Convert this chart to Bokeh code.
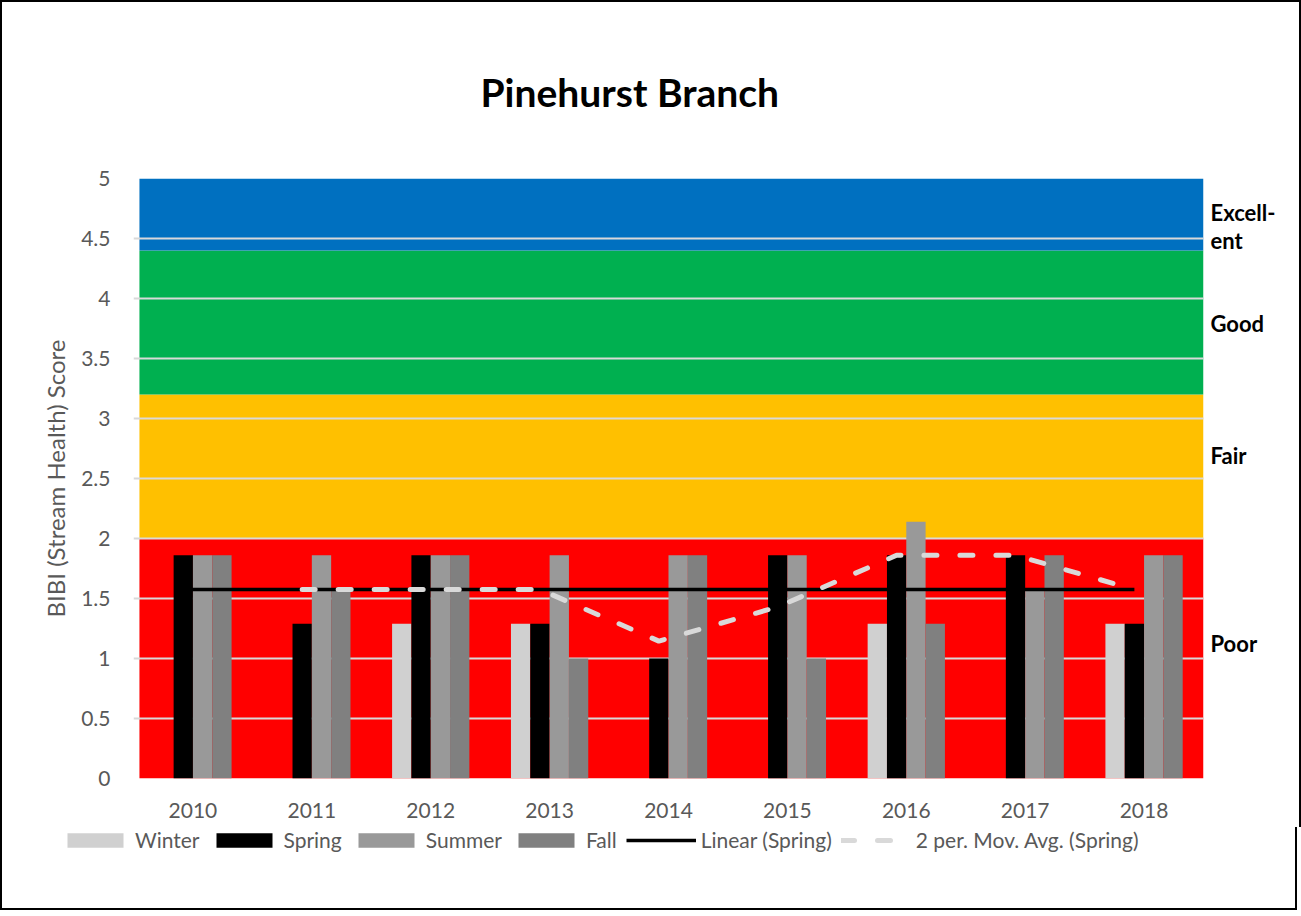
import numpy as np
from bokeh.plotting import figure
from bokeh.models import (Range1d, FixedTicker, NumeralTickFormatter, LinearAxis,
                          Legend, LegendItem)
from bokeh.embed import file_html
from bokeh.resources import INLINE

nan = float("nan")

# ---------------- data ----------------
years = ["2010", "2011", "2012", "2013", "2014", "2015", "2016", "2017", "2018"]
winter = [nan, nan, 1.29, 1.29, nan, nan, 1.29, nan, 1.29]
spring = [1.86, 1.29, 1.86, 1.29, 1.00, 1.86, 1.86, 1.86, 1.29]
summer = [1.86, 1.86, 1.86, 1.86, 1.86, 1.86, 2.14, 1.57, 1.86]
fall = [1.86, 1.57, 1.86, 1.00, 1.86, 1.00, 1.29, 1.86, 1.86]
series_names = ["Winter", "Spring", "Summer", "Fall"]

band_bottom = [0.0, 2.0, 3.2, 4.4]
band_top = [2.0, 3.2, 4.4, 5.0]
band_names = ["Poor", "Fair", "Good", "Excell-\nent"]

y_ticks = [0, 0.5, 1, 1.5, 2, 2.5, 3, 3.5, 4, 4.5, 5]

title_text = "Pinehurst Branch"
y_label = "BIBI (Stream Health) Score"
trend_label = "Linear (Spring)"
ma_label = "2 per. Mov. Avg. (Spring)"

# ---------------- styles / layout ----------------
band_colors = ["#FF0000", "#FFC000", "#00B050", "#0070C0"]
bar_colors = ["#D0D0D0", "#000000", "#999999", "#808080"]
trend_color = "#000000"
ma_color = "#D9D9D9"
band_label_y = [1.125, 2.69, 3.79, 4.6]
FONT = "Lato"
GRAY = "#595959"

xs = np.arange(len(years))
w = 0.1625
offsets = [-1.5 * w, -0.5 * w, 0.5 * w, 1.5 * w]
spring_arr = np.array(spring)
sx = xs + offsets[1]
coef = np.polyfit(xs, spring_arr, 1)
trend = np.polyval(coef, xs)                      # linear trend of spring
ma = (spring_arr[1:] + spring_arr[:-1]) / 2.0     # 2-period moving average


def add_series(fig):
    """Draw bars, trend and moving average on a figure; return the renderers."""
    rs = []
    for vals, off, col in zip([winter, spring, summer, fall], offsets, bar_colors):
        rs.append(fig.vbar(x=xs + off, width=w, top=vals, bottom=0,
                           fill_color=col, line_color=None))
    rs.append(fig.line(x=sx, y=trend, line_color=trend_color, line_width=3.5))
    rs.append(fig.line(x=sx[1:], y=ma, line_color=ma_color, line_width=5,
                       line_dash="13 23", line_cap="round"))
    return rs


# ---------------- main chart ----------------
p = figure(frame_width=1070, frame_height=600,
           output_backend="svg", toolbar_location=None,
           x_range=Range1d(-0.5, 8.5), y_range=Range1d(0, 5),
           min_border_left=131, min_border_right=96,
           min_border_top=176, min_border_bottom=49,
           background_fill_color="white", border_fill_color="white",
           outline_line_color=None,
           styles={"border": "2px solid #000000", "border-bottom": "0px"})

p.title.text = title_text
p.title.align = "left"
p.title.offset = 347
p.title.standoff = 128
p.title.text_font = FONT
p.title.text_font_style = "bold"
p.title.text_font_size = "39px"
p.title.text_color = "black"

# rating bands (below grid)
p.quad(left=-0.45, right=8.5, bottom=band_bottom, top=band_top,
       fill_color=band_colors, line_color=None, level="image")

add_series(p)

p.ygrid.ticker = FixedTicker(ticks=y_ticks)
p.ygrid.grid_line_color = "#D9D9D9"
p.ygrid.grid_line_width = 2
p.xgrid.grid_line_color = None

p.xaxis.ticker = FixedTicker(ticks=list(range(len(years))))
p.xaxis.major_label_overrides = {i: y for i, y in enumerate(years)}
p.yaxis.ticker = FixedTicker(ticks=y_ticks)
p.yaxis.formatter = NumeralTickFormatter(format="0.[0]")

raxis = LinearAxis(ticker=FixedTicker(ticks=band_label_y),
                   major_label_overrides={yy: n for yy, n in zip(band_label_y, band_names)})
p.add_layout(raxis, "right")

for ax in (p.xaxis[0], p.yaxis[0], raxis):
    ax.axis_line_color = None
    ax.major_tick_line_color = None
    ax.minor_tick_line_color = None
    ax.major_tick_out = 0
    ax.major_tick_in = 0
    ax.minor_tick_out = 0
    ax.minor_tick_in = 0
    ax.major_label_text_font = FONT
    ax.major_label_text_font_size = "21px"
    ax.major_label_text_color = GRAY
raxis.major_label_text_color = "black"
raxis.major_label_text_font_style = "bold"
raxis.major_label_text_font_size = "22px"
raxis.major_label_text_line_height = 1.05
raxis.major_label_standoff = 7

p.xaxis.major_label_standoff = 24
p.yaxis[0].major_label_standoff = 23
p.yaxis[0].axis_label = y_label
p.yaxis[0].axis_label_text_font = FONT
p.yaxis[0].axis_label_text_font_size = "24px"
p.yaxis[0].axis_label_text_font_style = "normal"
p.yaxis[0].axis_label_text_color = GRAY
p.yaxis[0].axis_label_standoff = 8

# ---------------- legend strip ----------------
# same series drawn again, but the y-range sits far above the data so only the legend keys show
lg = figure(width=1297, height=83, output_backend="svg", toolbar_location=None,
            title=None, x_axis_type=None, y_axis_type=None,
            x_range=Range1d(-0.5, 8.5), y_range=Range1d(100, 101),
            min_border_left=0, min_border_right=0, min_border_top=0, min_border_bottom=0,
            background_fill_color="white", border_fill_color="white",
            outline_line_color=None,
            styles={"border": "2px solid #000000", "border-top": "0px"})
lg.grid.grid_line_color = None
keys = add_series(lg)
labels = series_names + [trend_label, ma_label]
legend = Legend(items=[LegendItem(label=t, renderers=[r]) for t, r in zip(labels, keys)],
                orientation="horizontal", location=(58, 58),
                glyph_width=70, glyph_height=18, label_standoff=5, spacing=9,
                padding=0, margin=0, border_line_color=None,
                background_fill_alpha=0, label_text_font=FONT,
                label_text_font_size="21px", label_text_color=GRAY)
lg.add_layout(legend)

open("out.html", "w").write(file_html([p, lg], INLINE))
